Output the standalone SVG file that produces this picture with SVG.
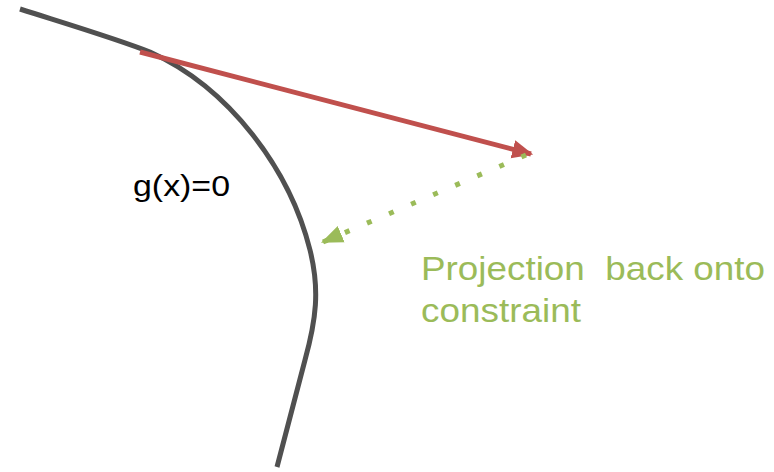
<svg xmlns="http://www.w3.org/2000/svg" width="774" height="472" viewBox="0 0 774 472">
<style>
.curve{fill:none;stroke:#505050;stroke-width:5}
.grad{stroke:#c0504d;stroke-width:5;fill:none}
.proj{stroke:#9bbb59;stroke-width:5;fill:none;stroke-dasharray:5 19}
.lbl{font-family:"Liberation Sans",Arial,sans-serif;white-space:pre}
</style>
<defs>
<marker id="redHead" markerUnits="userSpaceOnUse" markerWidth="22" markerHeight="20" refX="17" refY="8.5" orient="auto" viewBox="0 0 20 17">
<path d="M0,0 L19,8.5 L0,17 Z" fill="#c0504d"/>
</marker>
<marker id="greenHead" markerUnits="userSpaceOnUse" markerWidth="22" markerHeight="20" refX="18" refY="8" orient="auto" viewBox="0 0 20 16">
<path d="M0,0 L20,8 L0,16 Z" fill="#9bbb59"/>
</marker>
</defs>
<g id="constraint-curve">
<path class="curve" d="M20,9 C80,28 120,40 150,52 C230,88 290,170 310,250 C320,290 316,320 305,360 L277,467"/>
<text class="lbl" x="133" y="196" font-size="29" fill="#000" textLength="97" lengthAdjust="spacingAndGlyphs">g(x)=0</text>
</g>
<g id="label-projection">
<text class="lbl" x="421" y="280" font-size="34" fill="#9bbb59" textLength="344" lengthAdjust="spacingAndGlyphs">Projection  back onto</text>
<text class="lbl" x="421" y="322" font-size="34" fill="#9bbb59" textLength="160" lengthAdjust="spacingAndGlyphs">constraint</text>
</g>
<g id="connectors">
<line class="grad" x1="140" y1="52" x2="531" y2="154" marker-end="url(#redHead)"/>
<line class="proj" x1="526" y1="155" x2="323" y2="242" marker-end="url(#greenHead)"/>
</g>
</svg>
